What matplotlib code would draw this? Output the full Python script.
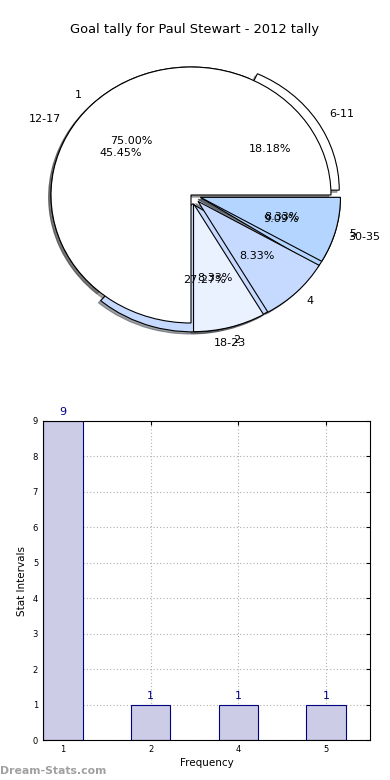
import matplotlib
matplotlib.use('Agg')
import matplotlib.pyplot as plt

# pie data
freq_labels = ['1', '2', '4', '5']
freq_values = [9, 1, 1, 1]
interval_labels = ['6-11', '12-17', '18-23', '30-35']
interval_values = [2, 5, 3, 1]

# bar data
bar_labels = ['1', '2', '4', '5']
bar_values = [9, 1, 1, 1]

pie_colors = ['#ffffff', '#eaf1ff', '#c6d9ff', '#b3d5ff']
interval_colors = ['#ffffff', '#ffffff', '#c6d9ff', '#b3d5ff']


def explode_for(vals, amount=0.07):
    top = max(vals)
    return [0 if v == top else amount for v in vals]


shadow_opts = {'ox': -0.012, 'oy': -0.012, 'shade': 0.7}
wedge_opts = {'edgecolor': 'black', 'linewidth': 0.8}

fig = plt.figure(figsize=(3.9, 7.8), dpi=100)

ax1 = fig.add_axes([16 / 390, 1 - 355 / 780, 350 / 390, 320 / 780])
ax1.pie(interval_values, labels=interval_labels, colors=interval_colors,
        explode=explode_for(interval_values), autopct='%.2f%%',
        shadow=shadow_opts, startangle=0, wedgeprops=wedge_opts,
        textprops={'fontsize': 8})
ax1.pie(freq_values, labels=freq_labels, colors=pie_colors,
        explode=explode_for(freq_values), autopct='%.2f%%',
        shadow=shadow_opts, startangle=0, wedgeprops=wedge_opts,
        textprops={'fontsize': 8})
ax1.set_aspect('auto')
ax1.set_xlim(-1.25, 1.25)
ax1.set_ylim(-1.25, 1.25)
fig.text(0.5, 1 - 30 / 780, 'Goal tally for Paul Stewart - 2012 tally',
         ha='center', va='center', fontsize=9.4)

ax2 = fig.add_axes([43 / 390, 1 - 740 / 780, 327 / 390, 319 / 780])
xs = range(len(bar_values))
ax2.bar(xs, bar_values, width=0.45, color='#ccccE6',
        edgecolor='#000080', linewidth=0.8, zorder=2)
for x, v in zip(xs, bar_values):
    ax2.text(x, v + 0.1, str(v), ha='center', va='bottom', color='#000080',
             fontsize=8)
ax2.set_xticks(list(xs))
ax2.set_xticklabels(bar_labels)
ax2.set_xlim(-0.225, 3.5)
ax2.set_ylim(0, 9)
ax2.set_yticks(range(10))
ax2.tick_params(labelsize=6, direction='in', right=True, top=True, length=3)
ax2.grid(True, linestyle=(0, (1, 2)), color='#b0b0b0', linewidth=0.8, zorder=0)
ax2.set_axisbelow(True)
ax2.set_xlabel('Frequency', fontsize=7.5, labelpad=3)
ax2.set_ylabel('Stat Intervals', fontsize=7.5, labelpad=4)

fig.text(0.0, 1 - 771 / 780, 'Dream-Stats.com', color='#a0a0a0',
         fontsize=7.8, fontweight='bold', ha='left', va='center')

fig.savefig('out.png', dpi=100)
